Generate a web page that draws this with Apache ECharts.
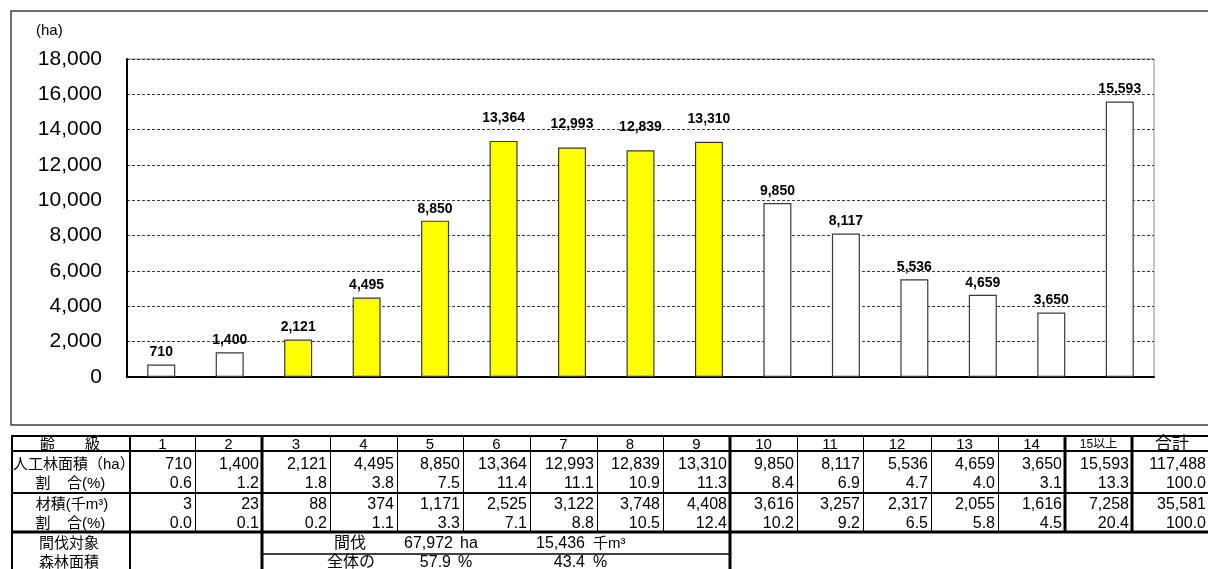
<!DOCTYPE html>
<html>
<head>
<meta charset="utf-8">
<script src="https://cdn.jsdelivr.net/npm/echarts@6/dist/echarts.min.js"></script>
<style>
  html, body { margin: 0; padding: 0; background: #fff; }
  #chart { width: 1208px; height: 569px; }
</style>
</head>
<body>
<div id="chart"></div>
<script>
// 齢級別 人工林面積・材積
const ageClasses   = ['1','2','3','4','5','6','7','8','9','10','11','12','13','14','15以上'];
const plantedArea  = [710, 1400, 2121, 4495, 8850, 13364, 12993, 12839, 13310, 9850, 8117, 5536, 4659, 3650, 15593];
const areaShare    = [0.6, 1.2, 1.8, 3.8, 7.5, 11.4, 11.1, 10.9, 11.3, 8.4, 6.9, 4.7, 4.0, 3.1, 13.3];
const volume       = [3, 23, 88, 374, 1171, 2525, 3122, 3748, 4408, 3616, 3257, 2317, 2055, 1616, 7258];
const volumeShare  = [0.0, 0.1, 0.2, 1.1, 3.3, 7.1, 8.8, 10.5, 12.4, 10.2, 9.2, 6.5, 5.8, 4.5, 20.4];
const totalArea    = 117488;
const totalVolume  = 35581;
const totalShare   = 100.0;
// 間伐対象齢級（3〜9齢級）
const thinningFlags = [0, 0, 1, 1, 1, 1, 1, 1, 1, 0, 0, 0, 0, 0, 0];
const thinningArea   = 67972;
const thinningVolume = 15436;
const thinningAreaShare   = 57.9;
const thinningVolumeShare = 43.4;
const yTicks = { min: 0, max: 18000, step: 2000 };

const FONT = "'Liberation Sans', 'Noto Sans CJK JP', sans-serif";
const fmtInt = v => v.toLocaleString('en-US');
const fmt1 = v => v.toFixed(1);

// ---- table layout ----
const colEdges = [130, 195, 262, 330, 397, 463, 530, 597, 663, 730, 797, 863, 931, 998, 1065, 1132];
const lastRight = 1206;
const rowY = { head: 444.5, area: 465, areaPct: 484, vol: 505, volPct: 524, thin1: 544, thin2: 563 };
const NUM = 16;

const g = [];
function txt(s, x, y, align, size, extra) {
  g.push(Object.assign({
    type: 'text', silent: true,
    style: {
      text: s, x: x, y: y,
      align: align, textAlign: align,
      verticalAlign: 'middle', textVerticalAlign: 'middle',
      font: (size || 15) + 'px ' + FONT, fill: '#000'
    }
  }, extra || {}));
}
function ln(x1, y1, x2, y2, w) {
  g.push({ type: 'line', silent: true,
    shape: { x1: x1, y1: y1, x2: x2, y2: y2 },
    style: { stroke: '#000', lineWidth: w } });
}

// outer frame of the chart area
g.push({ type: 'rect', silent: true, shape: { x: 11, y: 11, width: 1210, height: 414 },
  style: { fill: null, stroke: '#404040', lineWidth: 1.5 } });
txt('(ha)', 36, 31, 'left', 15);

// horizontal rules
ln(11, 436, 1210, 436, 2);
ln(11, 451, 1210, 451, 2);
ln(11, 493, 1210, 493, 2);
ln(11, 532, 1210, 532, 3);
ln(262, 554, 730, 554, 1.5);
// vertical rules
ln(12, 436, 12, 569, 2);
ln(130, 436, 130, 569, 2);
const thick = [262, 730, 1065, 1132];
colEdges.slice(1).forEach(x => {
  if (x === 262 || x === 730) ln(x, 436, x, 569, 3);
  else if (thick.indexOf(x) >= 0) ln(x, 436, x, 532, 3);
  else ln(x + 0.5, 436, x + 0.5, 532, 1);
});

// row headings
txt('齢　　級', 70, rowY.head, 'center', 15);
txt('人工林面積（ha）', 13, rowY.area, 'left', 15);
txt('割', 43, rowY.areaPct, 'center', 15);
txt('合(%)', 67, rowY.areaPct, 'left', 15);
txt('材積(千m³)', 72, rowY.vol, 'center', 15);
txt('割', 43, rowY.volPct, 'center', 15);
txt('合(%)', 67, rowY.volPct, 'left', 15);
txt('間伐対象', 69, rowY.thin1, 'center', 15);
txt('森林面積', 69, rowY.thin2, 'center', 15);

// per age class columns
ageClasses.forEach((c, i) => {
  const l = colEdges[i], r = colEdges[i + 1];
  txt(c, (l + r) / 2, rowY.head, 'center', c.length > 2 ? 12 : 15);
  txt(fmtInt(plantedArea[i]), r - 3, rowY.area, 'right', NUM);
  txt(fmt1(areaShare[i]), r - 3, rowY.areaPct, 'right', NUM);
  txt(fmtInt(volume[i]), r - 3, rowY.vol, 'right', NUM);
  txt(fmt1(volumeShare[i]), r - 3, rowY.volPct, 'right', NUM);
});
// totals
txt('合計', 1172, rowY.head, 'center', 17);
txt(fmtInt(totalArea), lastRight, rowY.area, 'right', NUM);
txt(fmt1(totalShare), lastRight, rowY.areaPct, 'right', NUM);
txt(fmtInt(totalVolume), lastRight, rowY.vol, 'right', NUM);
txt(fmt1(totalShare), lastRight, rowY.volPct, 'right', NUM);

// thinning summary box
txt('間伐', 350, rowY.thin1, 'center', 16);
txt(fmtInt(thinningArea), 453, rowY.thin1, 'right', NUM);
txt('ha', 460, rowY.thin1, 'left', NUM);
txt(fmtInt(thinningVolume), 585, rowY.thin1, 'right', NUM);
txt('千m³', 593, rowY.thin1, 'left', 15);
txt('全体の', 351, rowY.thin2, 'center', 16);
txt(fmt1(thinningAreaShare), 451, rowY.thin2, 'right', NUM);
txt('%', 458, rowY.thin2, 'left', NUM);
txt(fmt1(thinningVolumeShare), 585, rowY.thin2, 'right', NUM);
txt('%', 593, rowY.thin2, 'left', NUM);

// ---- bars ----
const barData = plantedArea.map((v, i) => ({
  value: v,
  itemStyle: { color: thinningFlags[i] ? '#FFFF00' : '#FFFFFF' },
  label: { distance: (i >= 5 && i <= 8) ? 16 : 5 }
}));

const chart = echarts.init(document.getElementById('chart'), null, { renderer: 'canvas' });
chart.setOption({
  animation: false,
  backgroundColor: '#fff',
  grid: {
    left: 127, right: 54, top: 59, bottom: 192,
    containLabel: false, outerBoundsMode: 'none',
    show: true, borderColor: '#8a8a8a', borderWidth: 1, backgroundColor: 'transparent'
  },
  xAxis: {
    type: 'category', data: ageClasses,
    axisLabel: { show: false }, axisTick: { show: false },
    axisLine: { show: true, lineStyle: { color: '#000', width: 2 } },
    splitLine: { show: false }
  },
  yAxis: {
    type: 'value', min: yTicks.min, max: yTicks.max, interval: yTicks.step,
    axisLine: { show: true, lineStyle: { color: '#000', width: 2 } },
    axisTick: { show: false },
    axisLabel: { color: '#000', fontSize: 21, fontFamily: FONT, margin: 25, formatter: v => fmtInt(v) },
    splitLine: { show: true, lineStyle: { color: '#3a3a3a', width: 1, type: [3, 2] } }
  },
  series: [{
    type: 'bar', data: barData, barWidth: 28,
    itemStyle: { borderColor: '#3a3a3a', borderWidth: 1.2 },
    label: {
      show: true, position: 'top', color: '#000',
      fontFamily: FONT, fontWeight: 'bold', fontSize: 14,
      formatter: p => fmtInt(p.value)
    }
  }],
  graphic: { elements: g }
});
</script>
</body>
</html>
